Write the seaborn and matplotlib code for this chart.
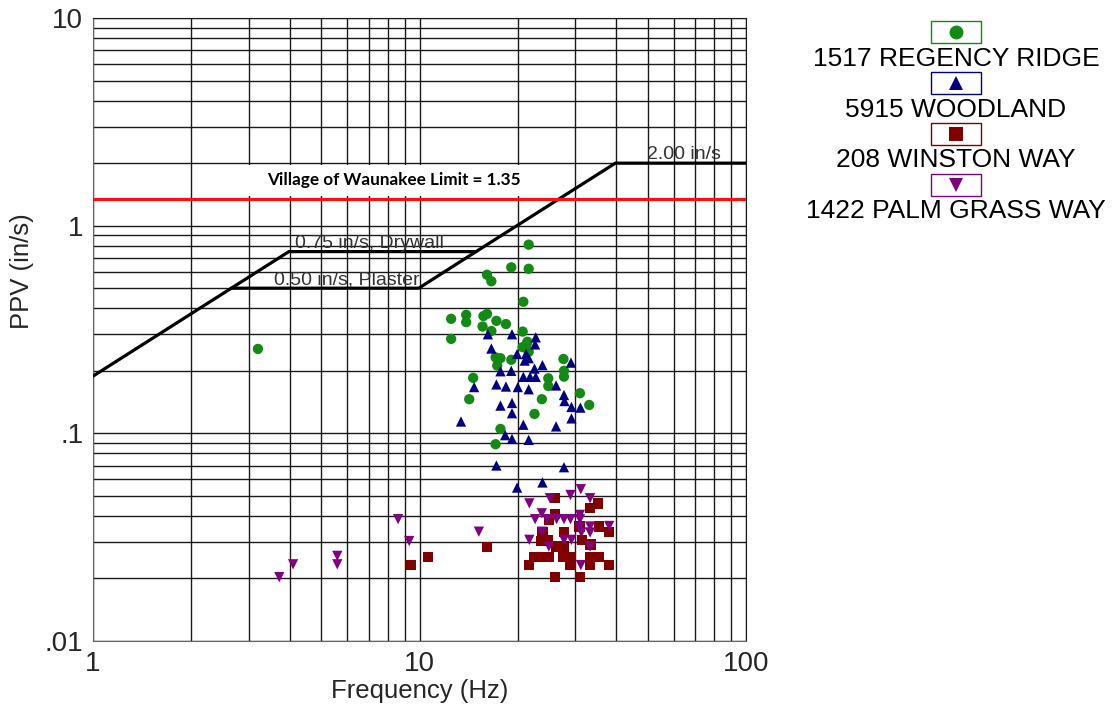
import numpy as np
import pandas as pd
import seaborn as sns
import matplotlib.pyplot as plt
from matplotlib.patches import Rectangle
from matplotlib.lines import Line2D

# ---- data ----
regency_freq = [21.6, 19.1, 21.6, 16.1, 16.6, 20.8, 12.5, 13.9, 13.9, 15.7, 16.1, 15.6, 16.6, 17.2, 18.4,
                12.5, 20.7, 20.7, 21.4, 21.6, 17.1, 17.7, 19.1, 17.3, 27.6, 27.7, 27.7, 14.6, 24.8, 24.8,
                14.2, 23.7, 31.0, 33.1, 22.5, 17.7, 17.1, 3.2, 21.3]
regency_ppv = [0.81, 0.63, 0.62, 0.58, 0.54, 0.43, 0.356, 0.372, 0.343, 0.367, 0.376, 0.327, 0.311, 0.348, 0.336,
               0.285, 0.309, 0.26, 0.276, 0.247, 0.232, 0.230, 0.226, 0.212, 0.228, 0.20, 0.1875, 0.185, 0.184, 0.169,
               0.146, 0.146, 0.156, 0.137, 0.124, 0.105, 0.0886, 0.255, 0.27]

woodland_freq = [16.2, 19.2, 22.7, 22.6, 16.6, 19.9, 21.2, 21.6, 21.0, 23.8, 22.5, 29.1, 17.7, 19.1, 20.8,
                 21.8, 22.7, 17.2, 18.4, 20.0, 21.6, 14.7, 26.2, 27.7, 27.8, 29.2, 31.1, 17.7, 19.2, 19.2,
                 13.4, 20.8, 26.2, 29.2, 18.3, 19.2, 21.6, 17.2, 27.7, 19.9, 23.8]
woodland_ppv = [0.30, 0.30, 0.29, 0.268, 0.256, 0.241, 0.241, 0.230, 0.224, 0.213, 0.205, 0.219, 0.199, 0.20, 0.187,
                0.187, 0.187, 0.172, 0.168, 0.167, 0.163, 0.167, 0.17, 0.153, 0.143, 0.134, 0.133, 0.136, 0.14, 0.125,
                0.114, 0.11, 0.108, 0.118, 0.098, 0.094, 0.093, 0.070, 0.0687, 0.0548, 0.058]

winston_freq = [26.0, 35.3, 33.3, 26.0, 24.9, 23.8, 27.7, 35.5, 38.1, 30.9, 23.5, 24.8, 26.2, 27.7, 31.4,
                33.4, 22.4, 23.7, 24.9, 27.6, 29.0, 29.0, 33.3, 35.5, 33.3, 38.1, 21.6, 26.0, 31.0, 16.1,
                10.6, 9.4]
winston_ppv = [0.0487, 0.046, 0.0436, 0.041, 0.0383, 0.0336, 0.0336, 0.0356, 0.0336, 0.0356, 0.0304, 0.0307, 0.0285, 0.0285, 0.0307,
               0.0292, 0.0253, 0.0253, 0.0253, 0.0253, 0.0253, 0.0232, 0.0253, 0.0253, 0.0232, 0.0232, 0.0232, 0.0203, 0.0203, 0.0283,
               0.0253, 0.0232]

palm_freq = [31.2, 29.0, 33.3, 25.1, 21.7, 23.7, 22.6, 24.6, 26.3, 27.7, 29.0, 31.0, 31.0, 30.9, 33.3,
             38.1, 31.3, 33.3, 23.7, 15.2, 21.7, 27.7, 29.2, 24.9, 33.3, 31.2, 8.6, 9.3, 5.6, 5.6,
             4.1, 3.72]
palm_ppv = [0.0538, 0.0505, 0.0487, 0.0487, 0.046, 0.0412, 0.0386, 0.0386, 0.0386, 0.0386, 0.0386, 0.0405, 0.0386, 0.0353, 0.0356,
            0.0358, 0.0333, 0.0333, 0.0336, 0.0336, 0.0307, 0.0307, 0.0307, 0.0285, 0.0285, 0.0232, 0.0386, 0.0303, 0.0257, 0.0234,
            0.0234, 0.0203]

sites = ["1517 REGENCY RIDGE", "5915 WOODLAND", "208 WINSTON WAY", "1422 PALM GRASS WAY"]
site_colors = ["#138a13", "#000080", "#800000", "#800080"]
site_markers = ["o", "^", "s", "v"]

# USBM style criteria curves
drywall_freq = [1, 3.98, 14.9, 39.8, 100]
drywall_ppv = [0.1885, 0.75, 0.75, 2.0, 2.0]
plaster_freq = [2.65, 9.95, 14.9]
plaster_ppv = [0.5, 0.5, 0.75]
village_limit = 1.35

df = pd.concat([
    pd.DataFrame({"freq": regency_freq, "ppv": regency_ppv, "site": sites[0]}),
    pd.DataFrame({"freq": woodland_freq, "ppv": woodland_ppv, "site": sites[1]}),
    pd.DataFrame({"freq": winston_freq, "ppv": winston_ppv, "site": sites[2]}),
    pd.DataFrame({"freq": palm_freq, "ppv": palm_ppv, "site": sites[3]}),
], ignore_index=True)

sns.set_style("white")
plt.rcParams["font.family"] = ["Liberation Sans", "DejaVu Sans"]

W, H = 1113, 704
fig = plt.figure(figsize=(W / 100, H / 100), dpi=100)
ax = fig.add_axes([93 / W, 1 - 641 / H, (746 - 93) / W, (641 - 18) / H])
ax.set_xscale("log")
ax.set_yscale("log")
ax.set_xlim(1, 100)
ax.set_ylim(0.01, 10)

ax.grid(True, which="both", color="#1a1a1a", lw=1.0, zorder=0)
ax.set_axisbelow(True)

# white box behind the village label
ax.add_patch(Rectangle(((245 - 93) / 653, (641 - 196) / 623), 300 / 653, 31 / 623,
                       transform=ax.transAxes, facecolor="white", edgecolor="none", zorder=1.5))

ax.plot(drywall_freq, drywall_ppv, color="black", lw=2.3, zorder=3, solid_joinstyle="miter")
ax.plot(plaster_freq, plaster_ppv, color="black", lw=2.3, zorder=3, solid_joinstyle="miter")
ax.axhline(village_limit, color="#ff1010", lw=2.3, zorder=3)

sns.scatterplot(data=df, x="freq", y="ppv", hue="site", style="site",
                palette=dict(zip(sites, site_colors)), markers=dict(zip(sites, site_markers)),
                s=55, linewidth=0, legend=False, ax=ax, zorder=4)

ax.text(4.16, 0.781, "0.75 in/s, Drywall", fontsize=14, color="#333333", ha="left", va="baseline", zorder=3.5)
ax.text(3.58, 0.518, "0.50 in/s, Plaster", fontsize=14, color="#333333", ha="left", va="baseline", zorder=3.5)
ax.text(49.8, 2.09, "2.00 in/s", fontsize=14, color="#333333", ha="left", va="baseline", zorder=3.5)
ax.text(8.33, 1.57, "Village of Waunakee Limit = 1.35", fontsize=12.3, fontweight="bold",
        family=["Lato", "DejaVu Sans"], color="black", ha="center", va="baseline", zorder=3.5)

ax.set_xticks([1, 10, 100], labels=["1", "10", "100"])
ax.set_yticks([0.01, 0.1, 1, 10], labels=[".01", ".1", "1", "10"])
ax.tick_params(which="major", length=6, width=1, color="#555555", labelsize=20, pad=1, direction="out")
ax.tick_params(which="minor", length=0)
for side in ["left", "bottom"]:
    ax.spines[side].set_color("#666666")
for side in ["top", "right"]:
    ax.spines[side].set_color("#1a1a1a")

ax.set_xlabel("Frequency (Hz)", fontsize=18.5)
ax.set_ylabel("PPV (in/s)", fontsize=18.5)
ax.xaxis.set_label_coords(0.5, (641 - 691) / 623)
ax.yaxis.set_label_coords((22 - 93) / 653, (641 - 271) / 623)
ax.xaxis.label.set_va("center")
ax.yaxis.label.set_va("center")

# legend drawn in figure space
box_cy = [32, 83, 134, 184.5]
text_base = [66, 117, 167, 218]
cx = 956
for name, col, mk, by, ty in zip(sites, site_colors, site_markers, box_cy, text_base):
    fig.add_artist(Rectangle(((cx - 25) / W, 1 - (by + 11) / H), 50 / W, 22 / H,
                             transform=fig.transFigure, facecolor="white", edgecolor=col, lw=1))
    fig.add_artist(Line2D([cx / W], [1 - by / H], marker=mk, color=col, markersize=10,
                          linestyle="none", markeredgewidth=0, transform=fig.transFigure))
    fig.text(cx / W, 1 - ty / H, name, fontsize=19, ha="center", va="baseline", color="black")

fig.savefig("out.png", dpi=100)
